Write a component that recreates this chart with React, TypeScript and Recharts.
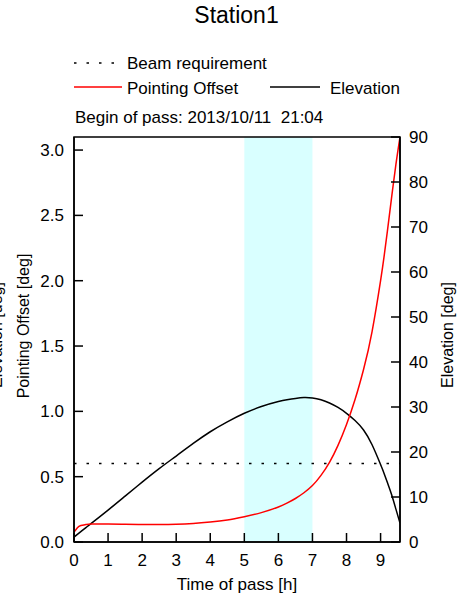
import { Line, LineChart, ReferenceArea, ReferenceLine, XAxis, YAxis } from "recharts"

const times = [0, 0.1, 0.2, 0.35, 0.5, 1, 1.5, 2, 2.5, 3, 3.5, 4, 4.5, 5, 5.5, 6, 6.25, 6.5, 6.75, 7, 7.25, 7.5, 7.75, 8, 8.25, 8.5, 8.75, 9, 9.1, 9.2, 9.32, 9.45, 9.57]
const pointingOffset = [0.075, 0.11, 0.126, 0.134, 0.137, 0.137, 0.135, 0.134, 0.134, 0.136, 0.142, 0.153, 0.169, 0.194, 0.225, 0.268, 0.297, 0.333, 0.377, 0.432, 0.51, 0.61, 0.74, 0.9, 1.09, 1.32, 1.61, 2.0, 2.18, 2.38, 2.63, 2.89, 3.1]
const elevation = [1.1, 1.7, 2.3, 3.2, 4.1, 7.1, 10.2, 13.3, 16.3, 19.1, 21.9, 24.5, 26.7, 28.6, 30.1, 31.2, 31.6, 31.9, 32.1, 32.0, 31.6, 30.9, 29.9, 28.6, 27.0, 24.9, 21.6, 17.2, 15.3, 13.2, 10.6, 7.3, 4.2]

const xTicks = [0, 1, 2, 3, 4, 5, 6, 7, 8, 9]
const offsetTicks = [0, 0.5, 1, 1.5, 2, 2.5, 3]
const elevationTicks = [0, 10, 20, 30, 40, 50, 60, 70, 80, 90]
const beamRequirement = 0.6
const passBand = [5, 7]

const data = times.map((t, i) => ({ t, offset: pointingOffset[i], elevation: elevation[i] }))

const font = "'Liberation Sans', Arial, sans-serif"
const tickStyle = { fontSize: 17, fill: "#000", fontFamily: font }

export default function App() {
  return (
    <div style={{ position: "absolute", left: 0, top: 0, width: 472, height: 600, background: "#fff" }}>
      <LineChart width={472} height={600} data={data} margin={{ top: 137, right: 0, left: 0, bottom: 0 }}>
        <XAxis
          type="number"
          dataKey="t"
          domain={[0, 9.57]}
          ticks={xTicks}
          allowDataOverflow
          height={58}
          tickSize={-9}
          tickMargin={21}
          tick={tickStyle}
          stroke="#000"
          strokeWidth={1.5}
        />
        <YAxis
          yAxisId="left"
          domain={[0, 3.1]}
          ticks={offsetTicks}
          allowDataOverflow
          width={74}
          tickSize={-9}
          tickMargin={19}
          tick={tickStyle}
          tickFormatter={(v) => v.toFixed(1)}
          stroke="#000"
          strokeWidth={1.5}
        />
        <YAxis
          yAxisId="right"
          orientation="right"
          domain={[0, 90]}
          ticks={elevationTicks}
          allowDataOverflow
          width={72}
          tickSize={-9}
          tickMargin={18}
          tick={tickStyle}
          stroke="#000"
          strokeWidth={1.5}
        />
        <ReferenceArea yAxisId="left" x1={passBand[0]} x2={passBand[1]} y1={0} y2={3.1} fill="#d9ffff" fillOpacity={1} stroke="none" />
        <ReferenceLine yAxisId="left" y={beamRequirement} stroke="#000" strokeWidth={1.5} strokeDasharray="2.5 10" />
        <Line yAxisId="right" type="natural" dataKey="elevation" stroke="#000" strokeWidth={1.5} dot={false} isAnimationActive={false} />
        <Line yAxisId="left" type="natural" dataKey="offset" stroke="#ff0000" strokeWidth={1.5} dot={false} isAnimationActive={false} />
      </LineChart>
      <svg width={472} height={600} style={{ position: "absolute", left: 0, top: 0, pointerEvents: "none" }} fontFamily={font}>
        <text x={236.5} y={23} textAnchor="middle" fontSize={23}>Station1</text>
        <line x1={74} x2={116} y1={63} y2={63} stroke="#000" strokeWidth={1.5} strokeDasharray="2.5 10" />
        <text x={127} y={69} fontSize={17}>Beam requirement</text>
        <line x1={74} x2={122} y1={87} y2={87} stroke="#ff0000" strokeWidth={1.5} />
        <text x={127} y={94} fontSize={17}>Pointing Offset</text>
        <line x1={270} x2={320} y1={87} y2={87} stroke="#000" strokeWidth={1.5} />
        <text x={330} y={94} fontSize={17}>Elevation</text>
        <text x={75} y={123} fontSize={17} style={{ whiteSpace: "pre" }}>{"Begin of pass: 2013/10/11  21:04"}</text>
        <rect x={74} y={137} width={326} height={405} fill="none" stroke="#000" strokeWidth={1.5} />
        <text x={237} y={590} textAnchor="middle" fontSize={17}>Time of pass [h]</text>
        <text x={29} y={326} textAnchor="middle" fontSize={16} transform="rotate(-90 29 326)">Pointing Offset [deg]</text>
        <text x={2} y={335} textAnchor="middle" fontSize={16} transform="rotate(-90 2 335)">Elevation [deg]</text>
        <text x={453} y={335} textAnchor="middle" fontSize={16} transform="rotate(-90 453 335)">Elevation [deg]</text>
      </svg>
    </div>
  )
}
